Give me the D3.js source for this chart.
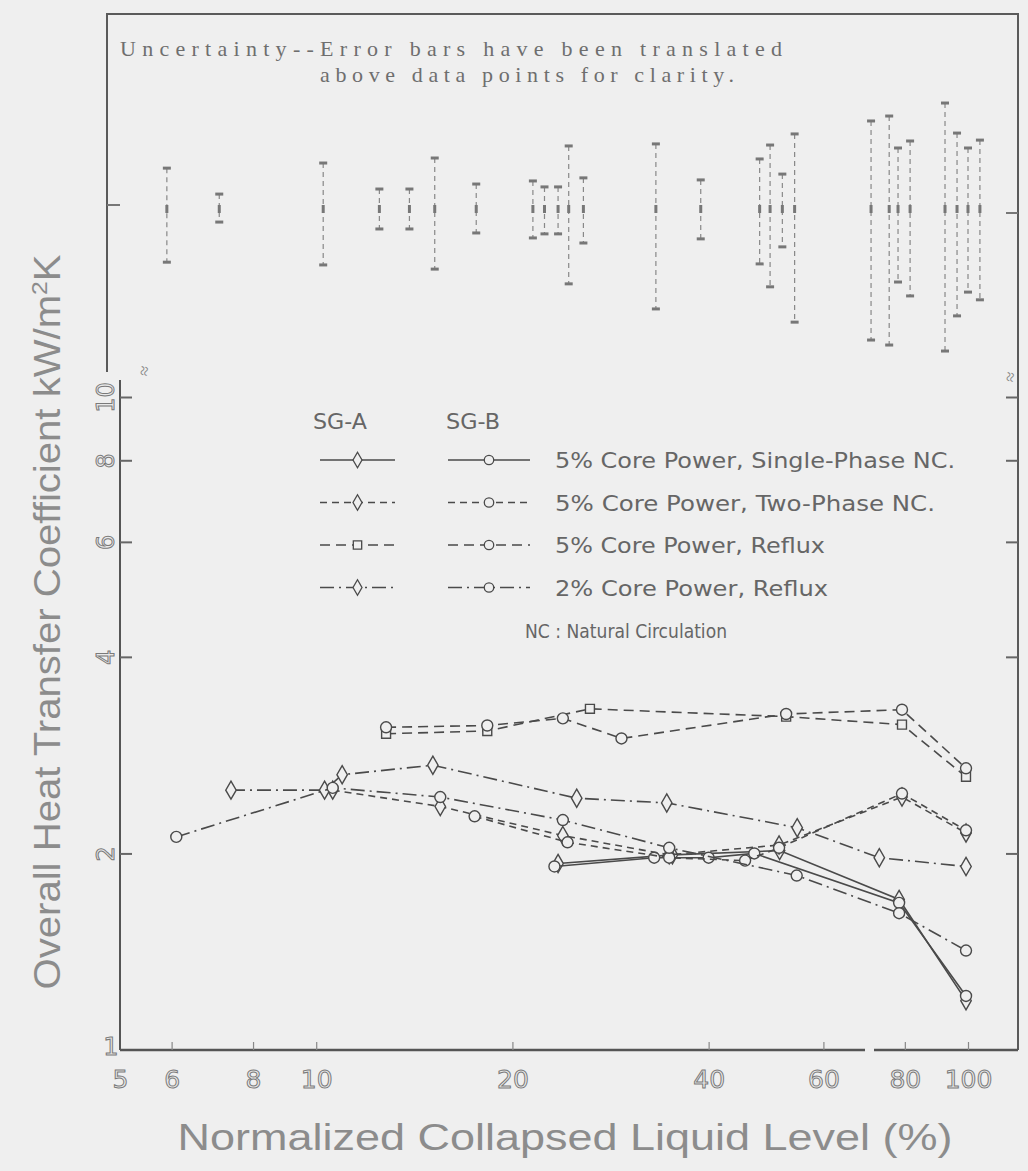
<!DOCTYPE html>
<html>
<head>
<meta charset="utf-8">
<script src="https://cdn.jsdelivr.net/npm/d3@7"></script>
<style>
body { margin: 0; background: #efefef; }
svg { display: block; }
</style>
</head>
<body>
<div id="chart"></div>
<script>
// tick values
var xTicks = [5, 6, 8, 10, 20, 40, 60, 80, 100];
var yTicks = [1, 2, 4, 6, 8, 10];

// [liquid level %, U kW/m2K]  SG-A / SG-B
var singleA = [[23.5, 1.93], [35.2, 1.99], [51.4, 2.02], [78.4, 1.70], [99.3, 1.19]];
var singleB = [[23.2, 1.91], [33, 1.97], [40, 1.97], [47, 2.0], [78.4, 1.68], [99.3, 1.21]];
var twoA = [[10.6, 2.5], [15.5, 2.36], [23.9, 2.13], [34.8, 1.99], [51.3, 2.06], [79.2, 2.44], [99.3, 2.15]];
var twoB = [[17.5, 2.28], [24.3, 2.08], [34.8, 1.97], [45.5, 1.95], [51.3, 2.04], [79.2, 2.47], [99.3, 2.17]];
var reflux5A = [[12.8, 3.05], [18.3, 3.08], [26.3, 3.33], [52.6, 3.24], [79.2, 3.15], [99.3, 2.62]];
var reflux5B = [[12.8, 3.12], [18.3, 3.14], [23.9, 3.22], [29.4, 3.0], [52.6, 3.27], [79.2, 3.32], [99.3, 2.7]];
var reflux2A = [[7.4, 2.5], [10.3, 2.5], [10.96, 2.64], [15.1, 2.73], [25.1, 2.43], [34.5, 2.39], [54.7, 2.19], [73.1, 1.97], [99.3, 1.91]];
var reflux2B = [[6.1, 2.12], [10.6, 2.52], [15.5, 2.44], [23.9, 2.25], [34.8, 2.04], [54.6, 1.85], [78.4, 1.62], [99.3, 1.42]];

// error bars (translated above the data): level %, upper and lower factor
var errLevel = [5.9, 7.1, 10.25, 12.5, 13.9, 15.2, 17.6, 21.5, 22.4, 23.5, 24.4, 25.7, 33.2, 38.9,
                47.9, 49.7, 51.9, 54.2, 71, 75.7, 78.1, 81.5, 92.2, 96.2, 100, 104.3];
var errHi = [1.155, 1.054, 1.176, 1.073, 1.073, 1.197, 1.092, 1.104, 1.081, 1.081, 1.249, 1.116, 1.258, 1.108,
             1.193, 1.253, 1.131, 1.303, 1.364, 1.388, 1.240, 1.271, 1.453, 1.307, 1.240, 1.275];
var errLo = [0.829, 0.955, 0.821, 0.932, 0.932, 0.809, 0.919, 0.903, 0.916, 0.916, 0.768, 0.887, 0.703, 0.900,
             0.824, 0.760, 0.875, 0.671, 0.630, 0.619, 0.773, 0.736, 0.606, 0.686, 0.746, 0.726];

var legendNames = ["5% Core Power, Single-Phase NC.", "5% Core Power, Two-Phase NC.",
                   "5% Core Power, Reflux", "2% Core Power, Reflux"];

var W = 1028, H = 1171;
var bg = "#efefef", ink = "#4a4a4a", grey = "#777";

var svg = d3.select("#chart").append("svg")
    .attr("width", W).attr("height", H);
svg.append("rect").attr("width", W).attr("height", H).attr("fill", bg);

var x = d3.scaleLog().domain([5, 100]).range([120, 968]);
var y = d3.scaleLog().domain([1, 10]).range([1050, 397]);
var yErr = d3.scaleLog().domain([1, 10]).range([209, 209 - 653]);

var left = 120, right = 1018, bottom = 1050;

// frame of upper panel + right border
svg.append("path")
    .attr("d", "M107,372 V14 H" + right + " V" + bottom)
    .attr("fill", "none").attr("stroke", "#5a5a5a").attr("stroke-width", 2);
svg.append("line").attr("x1", 107).attr("x2", 120).attr("y1", 205).attr("y2", 205)
    .attr("stroke", "#777").attr("stroke-width", 2);
svg.append("line").attr("x1", right - 12).attr("x2", right).attr("y1", 213).attr("y2", 213)
    .attr("stroke", "#777").attr("stroke-width", 2);

// x axis
var gx = svg.append("g").attr("transform", "translate(0," + bottom + ")")
    .call(d3.axisBottom(x).tickValues(xTicks).tickSize(-8).tickPadding(20).tickFormat(d3.format("d")));
gx.select(".domain").attr("d", "M" + left + ",0H" + right).attr("stroke", "#555").attr("stroke-width", 2.5);
gx.selectAll(".tick line").attr("stroke", "#888").attr("stroke-width", 1.2);
gx.selectAll(".tick").filter(function (d) { return d === 5; }).select("line").remove();
gx.selectAll(".tick text")
    .attr("font-family", "'DejaVu Sans', sans-serif").attr("font-size", 25)
    .attr("fill", "#e9e9e9").attr("stroke", "#7a7a7a").attr("stroke-width", 1);
// gap in the axis line
gx.append("rect").attr("x", 865).attr("y", -3).attr("width", 9).attr("height", 6).attr("fill", bg);

// y axis
var gy = svg.append("g").attr("transform", "translate(" + left + ",0)")
    .call(d3.axisLeft(y).tickValues(yTicks).tickSize(-12).tickFormat(d3.format("d")));
gy.select(".domain").attr("d", "M0," + bottom + "V380").attr("stroke", "#555").attr("stroke-width", 2);
gy.selectAll(".tick line").attr("stroke", "#666").attr("stroke-width", 2);
gy.selectAll(".tick").filter(function (d) { return d === 1; }).select("line").remove();
gy.selectAll(".tick text")
    .attr("font-family", "'DejaVu Sans', sans-serif").attr("font-size", 24)
    .attr("fill", "#e9e9e9").attr("stroke", "#7a7a7a").attr("stroke-width", 1)
    .attr("text-anchor", "middle").attr("x", 0).attr("dy", 0)
    .attr("transform", function (d) { return d === 1 ? "translate(-9,4)" : "translate(-6,0) rotate(-90)"; });

// right border ticks
var gr = svg.append("g").attr("transform", "translate(" + right + ",0)")
    .call(d3.axisRight(y).tickValues(yTicks.slice(1)).tickSize(-12).tickFormat(""));
gr.select(".domain").remove();
gr.selectAll(".tick line").attr("stroke", "#666").attr("stroke-width", 2);

// axis breaks
[[150, 372], [1016, 378]].forEach(function (p) {
  svg.append("text").attr("transform", "translate(" + p[0] + "," + p[1] + ") rotate(-80)")
      .attr("text-anchor", "middle").attr("font-size", 18).attr("fill", "#888").text("\u2248");
});

// titles
svg.append("text")
    .attr("transform", "translate(60,622) rotate(-90)")
    .attr("text-anchor", "middle")
    .attr("font-family", "'Liberation Sans', Arial, sans-serif").attr("font-size", 36)
    .attr("fill", "#8c8c8c")
    .attr("textLength", 735).attr("lengthAdjust", "spacingAndGlyphs")
    .text("Overall Heat Transfer Coefficient kW/m")
    .append("tspan").attr("font-size", 22).attr("dy", -13).text("2")
    .select(function () { return this.parentNode; })
    .append("tspan").attr("dy", 13).text("K");

svg.append("text")
    .attr("x", 565).attr("y", 1150).attr("text-anchor", "middle")
    .attr("font-family", "'Liberation Sans', Arial, sans-serif").attr("font-size", 36)
    .attr("fill", "#8c8c8c")
    .attr("textLength", 775).attr("lengthAdjust", "spacingAndGlyphs")
    .text("Normalized Collapsed Liquid Level (%)");

// note in upper panel
svg.append("text").attr("x", 120).attr("y", 56)
    .attr("font-family", "'Liberation Serif', serif").attr("font-size", 22).attr("fill", "#6e6e6e")
    .attr("textLength", 662).attr("lengthAdjust", "spacing")
    .text("Uncertainty--Error bars have been translated");
svg.append("text").attr("x", 320).attr("y", 82)
    .attr("font-family", "'Liberation Serif', serif").attr("font-size", 22).attr("fill", "#6e6e6e")
    .attr("textLength", 414).attr("lengthAdjust", "spacing")
    .text("above data points for clarity.");

// error bars
var errData = errLevel.map(function (d, i) { return {x: d, hi: errHi[i], lo: errLo[i]}; });
var eb = svg.append("g").selectAll("g").data(errData).enter().append("g")
    .attr("transform", function (d) { return "translate(" + x(d.x) + ",0)"; });
eb.append("line")
    .attr("y1", function (d) { return yErr(d.hi); })
    .attr("y2", function (d) { return yErr(d.lo); })
    .attr("stroke", "#888").attr("stroke-width", 1.2).attr("stroke-dasharray", "5,4");
eb.selectAll(".cap").data(function (d) { return [d.hi, d.lo]; }).enter().append("line")
    .attr("x1", -4).attr("x2", 4)
    .attr("y1", function (v) { return yErr(v); }).attr("y2", function (v) { return yErr(v); })
    .attr("stroke", grey).attr("stroke-width", 3);
eb.append("rect").attr("x", -1.5).attr("y", yErr(1) - 4).attr("width", 3).attr("height", 8).attr("fill", grey);

// data series
var series = [
  {data: singleA, dash: null, sym: d3.symbolDiamond},
  {data: singleB, dash: null, sym: d3.symbolCircle},
  {data: twoA, dash: "7,5", sym: d3.symbolDiamond},
  {data: twoB, dash: "7,5", sym: d3.symbolCircle},
  {data: reflux5A, dash: "10,6", sym: d3.symbolSquare},
  {data: reflux5B, dash: "10,6", sym: d3.symbolCircle},
  {data: reflux2A, dash: "14,5,2,5", sym: d3.symbolDiamond},
  {data: reflux2B, dash: "14,5,2,5", sym: d3.symbolCircle}
];

var line = d3.line().x(function (d) { return x(d[0]); }).y(function (d) { return y(d[1]); });

var sg = svg.append("g").selectAll("g").data(series).enter().append("g");
sg.append("path")
    .attr("d", function (s) { return line(s.data); })
    .attr("fill", "none").attr("stroke", ink).attr("stroke-width", 1.6)
    .attr("stroke-dasharray", function (s) { return s.dash; });
sg.each(function (s) {
  d3.select(this).selectAll("path.m").data(s.data).enter().append("path")
      .attr("class", "m")
      .attr("transform", function (d) { return "translate(" + x(d[0]) + "," + y(d[1]) + ")"; })
      .attr("d", d3.symbol().type(s.sym).size(s.sym === d3.symbolSquare ? 80 : 95))
      .attr("fill", bg).attr("stroke", ink).attr("stroke-width", 1.4);
});

// legend
var leg = svg.append("g").attr("font-family", "'DejaVu Sans', sans-serif").attr("fill", "#666");
leg.append("text").attr("x", 313).attr("y", 429).attr("font-size", 21)
    .attr("textLength", 54).attr("lengthAdjust", "spacingAndGlyphs").text("SG-A");
leg.append("text").attr("x", 446).attr("y", 429).attr("font-size", 21)
    .attr("textLength", 54).attr("lengthAdjust", "spacingAndGlyphs").text("SG-B");

var legWidths = [400, 380, 270, 273];
var legSeries = [[0, 1], [2, 3], [4, 5], [6, 7]];
legendNames.forEach(function (name, i) {
  var yy = 460 + i * 42.5;
  [[320, 395], [448, 530]].forEach(function (span, k) {
    var s = series[legSeries[i][k]];
    leg.append("line").attr("x1", span[0]).attr("x2", span[1]).attr("y1", yy).attr("y2", yy)
        .attr("stroke", ink).attr("stroke-width", 1.6).attr("stroke-dasharray", s.dash);
    leg.append("path")
        .attr("transform", "translate(" + ((span[0] + span[1]) / 2) + "," + yy + ")")
        .attr("d", d3.symbol().type(s.sym).size(70))
        .attr("fill", bg).attr("stroke", ink).attr("stroke-width", 1.3);
  });
  leg.append("text").attr("x", 555).attr("y", yy + 8).attr("font-size", 22)
      .attr("textLength", legWidths[i]).attr("lengthAdjust", "spacingAndGlyphs").text(name);
});
leg.append("text").attr("x", 525).attr("y", 638).attr("font-size", 19)
    .attr("textLength", 202).attr("lengthAdjust", "spacingAndGlyphs").text("NC : Natural Circulation");
</script>
</body>
</html>
